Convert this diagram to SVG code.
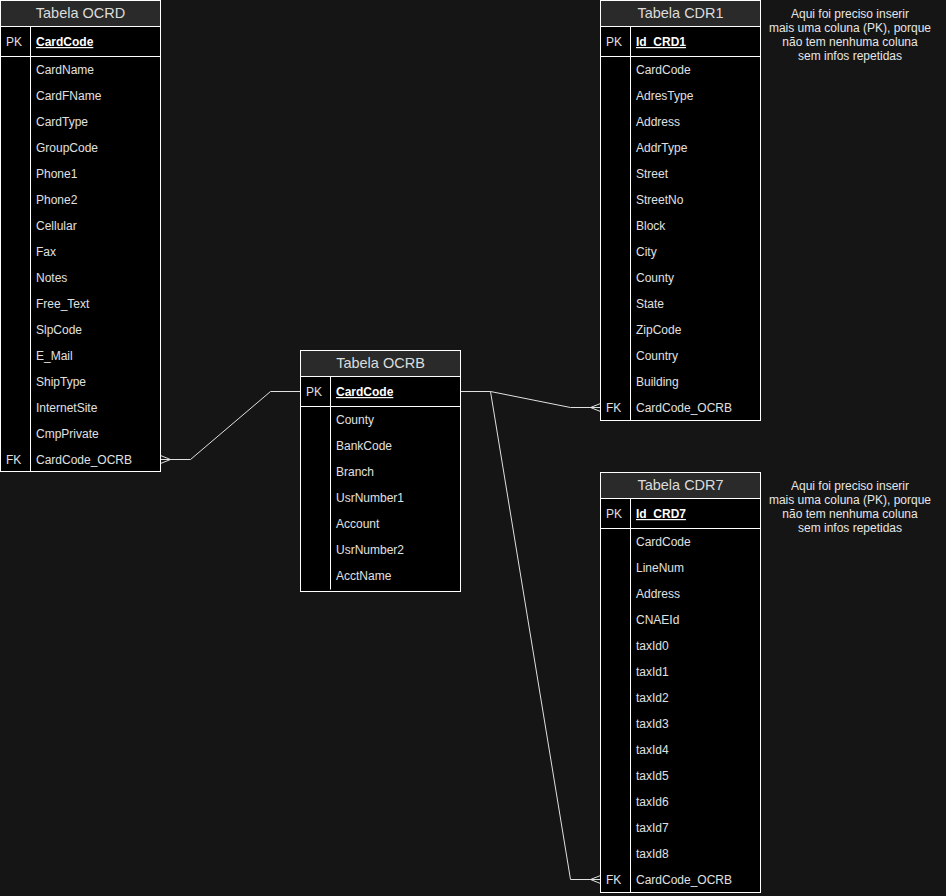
<svg xmlns="http://www.w3.org/2000/svg" width="946" height="896" viewBox="0 0 946 896">
  <style>
    .bg { fill: #151515; }
    .head { fill: #2a2a2a; stroke: #ffffff; stroke-width: 1; }
    .body { fill: #000000; stroke: #ffffff; stroke-width: 1; }
    .sep { stroke: #ffffff; stroke-width: 1; fill: none; }
    .title { font-family: "Liberation Sans", Arial, sans-serif; font-size: 14.5px; fill: #dcdcdc; text-anchor: middle; }
    .row { font-family: "Liberation Sans", Arial, sans-serif; font-size: 12px; fill: #e0e0e0; }
    .pk { font-family: "Liberation Sans", Arial, sans-serif; font-size: 12px; fill: #ffffff; font-weight: bold; text-decoration: underline; }
    .note { font-family: "Liberation Sans", Arial, sans-serif; font-size: 12px; fill: #e6e6e6; text-anchor: middle; }
    .edge { stroke: #e0e0e0; stroke-width: 1; fill: none; }
  </style>

  <rect class="bg" x="0" y="0" width="946" height="896"/>

  <!-- Connectors -->
  <g id="connectors">
    <!-- OCRD.CardCode_OCRB -> OCRB.CardCode -->
    <path class="edge" d="M160.5,459.5 L190.5,459.5 L270.5,391.5 L300.5,391.5"/>
    <path class="edge" d="M160.5,455.5 L170.5,459.5 L160.5,463.5"/>
    <!-- OCRB.CardCode -> CDR1.CardCode_OCRB -->
    <path class="edge" d="M460.5,391.5 L490.5,391.5 L570.5,407.5 L600.5,407.5"/>
    <path class="edge" d="M600.5,403.5 L590.5,407.5 L600.5,411.5"/>
    <!-- OCRB.CardCode -> CDR7.CardCode_OCRB -->
    <path class="edge" d="M490.5,391.5 L570.5,879.5 L600.5,879.5"/>
    <path class="edge" d="M600.5,875.5 L590.5,879.5 L600.5,883.5"/>
  </g>

  <!-- Tabela OCRD -->
  <g id="ocrd">
    <rect class="head" x="0.5" y="0.5" width="160" height="26"/>
    <rect class="body" x="0.5" y="26.5" width="160" height="445"/>
    <path class="sep" d="M0.5,56.5 H160.5 M30.5,26.5 V471.5"/>
    <text class="title" x="80.5" y="18">Tabela OCRD</text>
    <text class="row" x="6" y="46">PK</text>
    <text class="pk" x="36" y="46">CardCode</text>
    <text class="row" x="36" y="74">CardName</text>
    <text class="row" x="36" y="100">CardFName</text>
    <text class="row" x="36" y="126">CardType</text>
    <text class="row" x="36" y="152">GroupCode</text>
    <text class="row" x="36" y="178">Phone1</text>
    <text class="row" x="36" y="204">Phone2</text>
    <text class="row" x="36" y="230">Cellular</text>
    <text class="row" x="36" y="256">Fax</text>
    <text class="row" x="36" y="282">Notes</text>
    <text class="row" x="36" y="308">Free_Text</text>
    <text class="row" x="36" y="334">SlpCode</text>
    <text class="row" x="36" y="360">E_Mail</text>
    <text class="row" x="36" y="386">ShipType</text>
    <text class="row" x="36" y="412">InternetSite</text>
    <text class="row" x="36" y="438">CmpPrivate</text>
    <text class="row" x="6" y="464">FK</text>
    <text class="row" x="36" y="464">CardCode_OCRB</text>
  </g>

  <!-- Tabela OCRB -->
  <g id="ocrb">
    <rect class="head" x="300.5" y="350.5" width="160" height="26"/>
    <rect class="body" x="300.5" y="376.5" width="160" height="215"/>
    <path class="sep" d="M300.5,406.5 H460.5 M330.5,376.5 V589.5"/>
    <text class="title" x="380.5" y="368">Tabela OCRB</text>
    <text class="row" x="306" y="396">PK</text>
    <text class="pk" x="336" y="396">CardCode</text>
    <text class="row" x="336" y="424">County</text>
    <text class="row" x="336" y="450">BankCode</text>
    <text class="row" x="336" y="476">Branch</text>
    <text class="row" x="336" y="502">UsrNumber1</text>
    <text class="row" x="336" y="528">Account</text>
    <text class="row" x="336" y="554">UsrNumber2</text>
    <text class="row" x="336" y="580">AcctName</text>
  </g>

  <!-- Tabela CDR1 -->
  <g id="cdr1">
    <rect class="head" x="600.5" y="0.5" width="160" height="26"/>
    <rect class="body" x="600.5" y="26.5" width="160" height="394"/>
    <path class="sep" d="M600.5,56.5 H760.5 M630.5,26.5 V420.5"/>
    <text class="title" x="680.5" y="18">Tabela CDR1</text>
    <text class="row" x="606" y="46">PK</text>
    <text class="pk" x="636" y="46">Id_CRD1</text>
    <text class="row" x="636" y="74">CardCode</text>
    <text class="row" x="636" y="100">AdresType</text>
    <text class="row" x="636" y="126">Address</text>
    <text class="row" x="636" y="152">AddrType</text>
    <text class="row" x="636" y="178">Street</text>
    <text class="row" x="636" y="204">StreetNo</text>
    <text class="row" x="636" y="230">Block</text>
    <text class="row" x="636" y="256">City</text>
    <text class="row" x="636" y="282">County</text>
    <text class="row" x="636" y="308">State</text>
    <text class="row" x="636" y="334">ZipCode</text>
    <text class="row" x="636" y="360">Country</text>
    <text class="row" x="636" y="386">Building</text>
    <text class="row" x="606" y="412">FK</text>
    <text class="row" x="636" y="412">CardCode_OCRB</text>
  </g>

  <!-- Tabela CDR7 -->
  <g id="cdr7">
    <rect class="head" x="600.5" y="472.5" width="160" height="26"/>
    <rect class="body" x="600.5" y="498.5" width="160" height="394"/>
    <path class="sep" d="M600.5,528.5 H760.5 M630.5,498.5 V892.5"/>
    <text class="title" x="680.5" y="490">Tabela CDR7</text>
    <text class="row" x="606" y="518">PK</text>
    <text class="pk" x="636" y="518">Id_CRD7</text>
    <text class="row" x="636" y="546">CardCode</text>
    <text class="row" x="636" y="572">LineNum</text>
    <text class="row" x="636" y="598">Address</text>
    <text class="row" x="636" y="624">CNAEId</text>
    <text class="row" x="636" y="650">taxId0</text>
    <text class="row" x="636" y="676">taxId1</text>
    <text class="row" x="636" y="702">taxId2</text>
    <text class="row" x="636" y="728">taxId3</text>
    <text class="row" x="636" y="754">taxId4</text>
    <text class="row" x="636" y="780">taxId5</text>
    <text class="row" x="636" y="806">taxId6</text>
    <text class="row" x="636" y="832">taxId7</text>
    <text class="row" x="636" y="858">taxId8</text>
    <text class="row" x="606" y="884">FK</text>
    <text class="row" x="636" y="884">CardCode_OCRB</text>
  </g>

  <!-- Side notes -->
  <g id="note-cdr1">
    <text class="note" x="850" y="18">Aqui foi preciso inserir</text>
    <text class="note" x="850" y="32">mais uma coluna (PK), porque</text>
    <text class="note" x="850" y="46">não tem nenhuma coluna</text>
    <text class="note" x="850" y="60">sem infos repetidas</text>
  </g>
  <g id="note-cdr7">
    <text class="note" x="850" y="490">Aqui foi preciso inserir</text>
    <text class="note" x="850" y="504">mais uma coluna (PK), porque</text>
    <text class="note" x="850" y="518">não tem nenhuma coluna</text>
    <text class="note" x="850" y="532">sem infos repetidas</text>
  </g>
</svg>
